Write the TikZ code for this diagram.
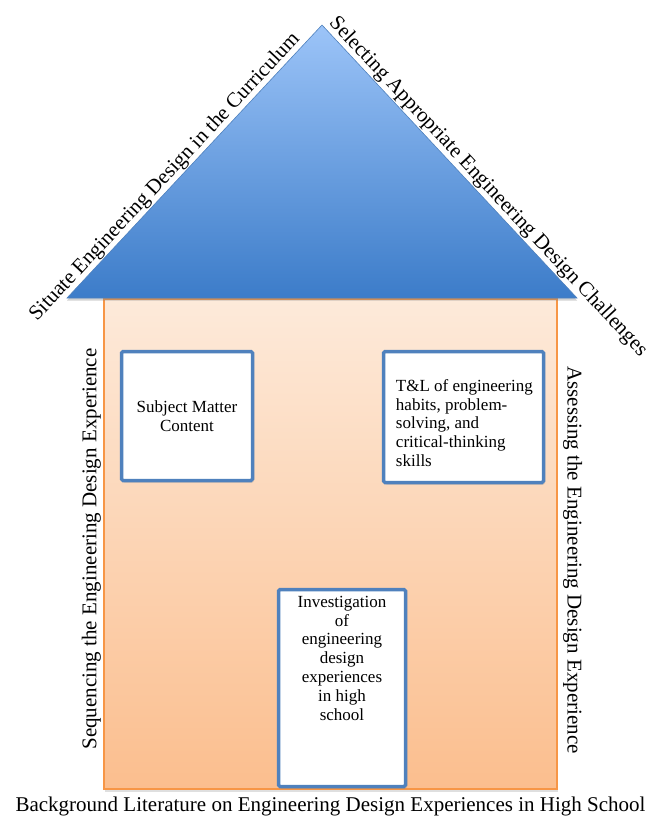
\documentclass[tikz,border=0pt]{standalone}
\usepackage{fontspec}
\setmainfont{Liberation Serif}
\usepackage{xcolor}
\definecolor{roofblue}{RGB}{60,124,201}
\definecolor{rooflight}{RGB}{156,196,248}
\definecolor{roofedge}{RGB}{79,129,189}
\definecolor{boxblue}{RGB}{79,129,189}
\definecolor{wallorange}{RGB}{247,150,70}
\definecolor{walltop}{RGB}{253,234,218}
\definecolor{wallbottom}{RGB}{251,190,142}
\usepackage{tikz}
\usetikzlibrary{positioning, shadows, calc}
\tikzstyle{wall}=[rectangle, draw=wallorange, line width=2pt, top color=walltop,
  bottom color=wallbottom, minimum width=453pt, minimum height=490pt, inner sep=0pt,
  drop shadow={opacity=0.25, shadow xshift=1pt, shadow yshift=-2.5pt}]
\tikzstyle{room}=[rectangle, draw=boxblue, line width=3.5pt, fill=white,
  rounded corners=1.5pt, inner sep=0pt,
  drop shadow={opacity=0.25, shadow xshift=1.5pt, shadow yshift=-2pt}]
\tikzstyle{roomtext}=[font=\fontsize{17}{18.8}\selectfont, inner sep=0pt]
\tikzstyle{rooftext}=[font=\fontsize{21}{23}\selectfont, inner sep=1pt]
\tikzstyle{sidetext}=[font=\fontsize{21}{23}\selectfont, inner sep=1pt]

\begin{document}
\begin{tikzpicture}[x=1pt, y=-1pt]
  \useasboundingbox (0,0) rectangle (652,821);
  % house body
  \node[wall] (house) at (330.5,544) {};
  % roof
  \coordinate (apex) at (322,25);
  \coordinate (eaveL) at (67,298);
  \coordinate (eaveR) at (577,298);
  \path[draw=roofedge, line width=0.6pt, top color=rooflight, bottom color=roofblue,
    drop shadow={opacity=0.35, shadow xshift=0pt, shadow yshift=-2.5pt}]
    (eaveL) -- (apex) -- (eaveR) -- cycle;
  \path (eaveL) -- (apex)
    node[rooftext, pos=0.415, sloped, above] (sitlabel)
    {Situate Engineering Design in the Curriculum};
  \path (apex) -- (eaveR)
    node[rooftext, pos=0.62, sloped, above] (sellabel)
    {Selecting Appropriate Engineering Design Challenges};
  % walls' labels
  \node[sidetext, rotate=90, anchor=south] (seqlabel) at (102,549)
    {Sequencing the Engineering Design Experience};
  \node[sidetext, rotate=-90, anchor=south] (asslabel) at (562,560)
    {Assessing the Engineering Design Experience};
  % rooms
  \node[room, minimum width=131pt, minimum height=129pt] (subj) at (187,416) {};
  \node[room, minimum width=160pt, minimum height=131pt] (habits) at (463.5,417) {};
  \node[room, minimum width=127pt, minimum height=197pt] (invest) at (342,688) {};
  \node[roomtext, align=center] (subjtext) at (subj.center) {Subject Matter\\Content};
  \node[roomtext, align=left, right=14pt of habits.west, yshift=-6pt] (habitstext)
    {T\&L of engineering\\habits, problem-\\solving, and\\critical-thinking\\skills};
  \node[roomtext, align=center, below=8pt of invest.north] (investtext)
    {Investigation\\of\\engineering\\design\\experiences\\in high\\school};
  % foundation
  \node[rooftext, below=6pt of house.south] (found)
    {Background Literature on Engineering Design Experiences in High School};
\end{tikzpicture}
\end{document}
